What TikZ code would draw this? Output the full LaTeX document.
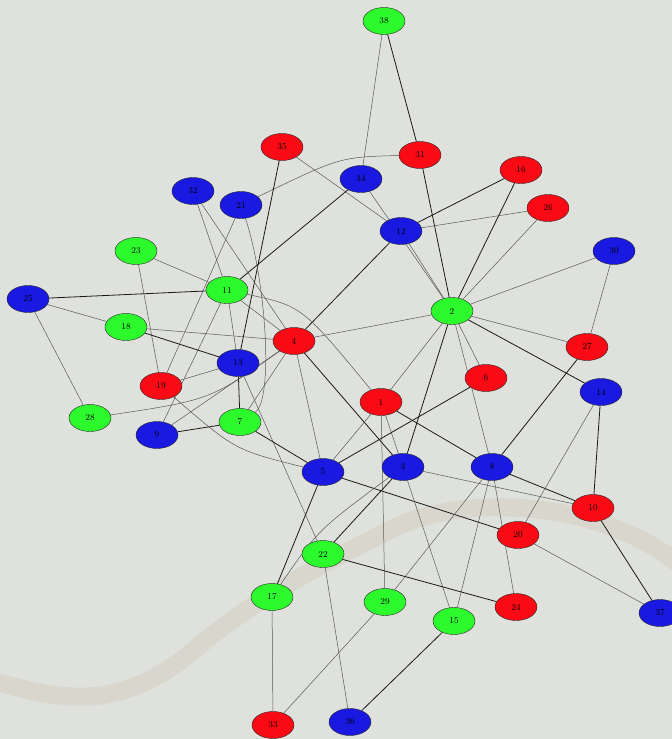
\documentclass[tikz,border=0pt]{standalone}
\usetikzlibrary{shapes.geometric}
\definecolor{bgcol}{RGB}{223,225,220}
\definecolor{stain}{RGB}{208,201,188}
\definecolor{nred}{RGB}{250,10,20}
\definecolor{ngreen}{RGB}{45,250,45}
\definecolor{nblue}{RGB}{25,25,225}
\pgfdeclarelayer{bglayer}
\pgfdeclarelayer{edgelayer}
\pgfsetlayers{bglayer,edgelayer,main}
\tikzset{
  vnode/.style={ellipse, draw=black!85, line width=0.4pt, minimum width=42pt, minimum height=27pt, inner sep=0pt, font=\fontsize{9}{10}\selectfont},
  rnode/.style={vnode, fill=nred},
  gnode/.style={vnode, fill=ngreen},
  bnode/.style={vnode, fill=nblue},
  edge/.style={draw=black!65, line width=0.5pt},
  tedge/.style={draw=black!90, line width=0.8pt}
}
\begin{document}
\begin{tikzpicture}[x=1pt,y=-1pt]
\useasboundingbox (0,0) rectangle (672,739);
\begin{pgfonlayer}{bglayer}
\fill[bgcol] (0,0) rectangle (672,739);
\begin{scope}
\clip (0,0) rectangle (672,739);
\draw[stain, line width=18pt, opacity=0.45, line cap=round, line join=round]
  (-10,680) .. controls (60,700) and (120,715) .. (200,645)
  .. controls (260,595) and (330,560) .. (400,525)
  .. controls (470,495) and (600,500) .. (680,565);
\end{scope}
\end{pgfonlayer}
% nodes
\node[gnode] (n38) at (384,21) {38};
\node[rnode] (n35) at (282,147) {35};
\node[rnode] (n31) at (420,155) {31};
\node[bnode] (n34) at (361,179) {34};
\node[rnode] (n16) at (521,170) {16};
\node[rnode] (n26) at (548,208) {26};
\node[bnode] (n32) at (193,191) {32};
\node[bnode] (n21) at (241,205) {21};
\node[bnode] (n12) at (401,231) {12};
\node[bnode] (n30) at (614,251) {30};
\node[gnode] (n23) at (136,251) {23};
\node[gnode] (n11) at (227,290) {11};
\node[bnode] (n25) at (28,299) {25};
\node[gnode] (n2) at (452,311) {2};
\node[gnode] (n18) at (126,327) {18};
\node[rnode] (n4) at (294,341) {4};
\node[rnode] (n27) at (587,347) {27};
\node[bnode] (n13) at (238,363) {13};
\node[rnode] (n6) at (486,378) {6};
\node[rnode] (n19) at (161,386) {19};
\node[rnode] (n1) at (381,402) {1};
\node[bnode] (n14) at (601,392) {14};
\node[gnode] (n28) at (90,418) {28};
\node[gnode] (n7) at (240,422) {7};
\node[bnode] (n9) at (157,435) {9};
\node[bnode] (n5) at (323,472) {5};
\node[bnode] (n3) at (403,467) {3};
\node[bnode] (n8) at (492,467) {8};
\node[rnode] (n10) at (593,508) {10};
\node[rnode] (n20) at (518,535) {20};
\node[gnode] (n22) at (323,554) {22};
\node[gnode] (n17) at (272,597) {17};
\node[gnode] (n29) at (385,602) {29};
\node[rnode] (n24) at (516,607) {24};
\node[gnode] (n15) at (454,621) {15};
\node[bnode] (n37) at (660,613) {37};
\node[rnode] (n33) at (273,725) {33};
\node[bnode] (n36) at (350,722) {36};
% edges
\begin{pgfonlayer}{edgelayer}
\draw[edge] (n38) -- (n34);
\draw[tedge] (n38) -- (n31);
\draw[tedge] (n31) -- (n2);
\draw[edge] (n21) .. controls (340,157) .. (n31);
\draw[tedge] (n35) -- (n13);
\draw[edge] (n35) -- (n12);
\draw[tedge] (n34) -- (n11);
\draw[edge] (n34) -- (n2);
\draw[tedge] (n12) -- (n16);
\draw[edge] (n12) -- (n26);
\draw[edge] (n12) -- (n2);
\draw[tedge] (n12) -- (n4);
\draw[tedge] (n16) -- (n2);
\draw[edge] (n26) -- (n2);
\draw[edge] (n30) -- (n2);
\draw[edge] (n30) -- (n27);
\draw[edge] (n2) -- (n27);
\draw[tedge] (n2) -- (n14);
\draw[edge] (n2) -- (n4);
\draw[edge] (n2) -- (n1);
\draw[tedge] (n2) -- (n3);
\draw[edge] (n2) -- (n8);
\draw[edge] (n2) -- (n6);
\draw[edge] (n32) -- (n11);
\draw[edge] (n32) -- (n4);
\draw[edge] (n21) -- (n19);
\draw[edge] (n21) .. controls (266,280) and (274,400) .. (n7);
\draw[edge] (n23) -- (n19);
\draw[edge] (n23) -- (n11);
\draw[edge] (n11) .. controls (302,306) .. (n1);
\draw[edge] (n11) -- (n4);
\draw[edge] (n11) -- (n13);
\draw[edge] (n11) -- (n9);
\draw[tedge] (n25) -- (n11);
\draw[edge] (n25) -- (n18);
\draw[edge] (n25) -- (n28);
\draw[edge] (n18) -- (n4);
\draw[tedge] (n18) -- (n13);
\draw[edge] (n13) -- (n19);
\draw[tedge] (n13) -- (n7);
\draw[edge] (n13) -- (n22);
\draw[edge] (n28) .. controls (210,400) .. (n4);
\draw[edge] (n9) -- (n4);
\draw[tedge] (n9) -- (n7);
\draw[edge] (n4) -- (n7);
\draw[edge] (n19) .. controls (235,450) .. (n5);
\draw[tedge] (n7) -- (n5);
\draw[edge] (n4) -- (n5);
\draw[tedge] (n4) -- (n3);
\draw[edge] (n1) -- (n5);
\draw[edge] (n1) -- (n3);
\draw[edge] (n1) -- (n29);
\draw[tedge] (n1) -- (n8);
\draw[tedge] (n5) -- (n6);
\draw[tedge] (n5) -- (n17);
\draw[tedge] (n5) -- (n20);
\draw[edge] (n3) -- (n10);
\draw[edge] (n3) -- (n15);
\draw[tedge] (n3) -- (n22);
\draw[edge] (n3) .. controls (318,530) .. (n17);
\draw[tedge] (n27) -- (n8);
\draw[tedge] (n8) -- (n10);
\draw[edge] (n8) -- (n29);
\draw[edge] (n8) -- (n15);
\draw[edge] (n8) -- (n24);
\draw[tedge] (n14) -- (n10);
\draw[edge] (n14) -- (n20);
\draw[tedge] (n10) -- (n37);
\draw[edge] (n20) -- (n37);
\draw[tedge] (n22) -- (n24);
\draw[edge] (n22) -- (n36);
\draw[edge] (n17) -- (n33);
\draw[edge] (n29) -- (n33);
\draw[tedge] (n15) -- (n36);
\end{pgfonlayer}
\end{tikzpicture}
\end{document}
